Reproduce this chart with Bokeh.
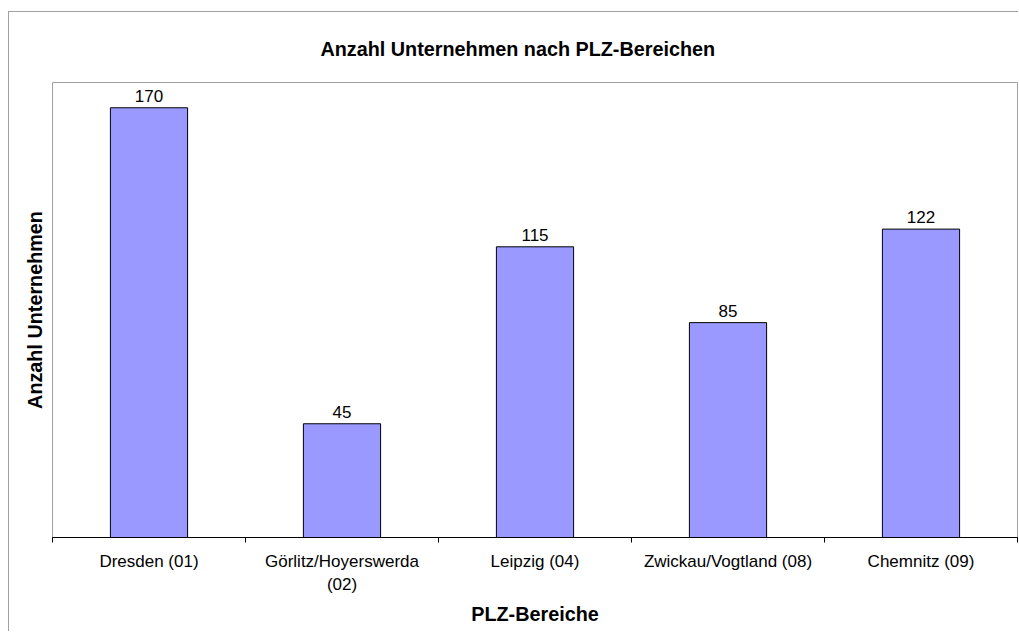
import numpy as np
from bokeh.plotting import figure
from bokeh.models import Range1d, FixedTicker, LabelSet, ColumnDataSource, LinearAxis
from bokeh.core.properties import value
from bokeh.embed import file_html
from bokeh.resources import INLINE

# ---- data ----
categories = ["Dresden (01)", "Görlitz/Hoyerswerda (02)", "Leipzig (04)",
              "Zwickau/Vogtland (08)", "Chemnitz (09)"]
tick_labels = ["Dresden (01)", "Görlitz/Hoyerswerda\n(02)", "Leipzig (04)",
               "Zwickau/Vogtland (08)", "Chemnitz (09)"]
values = [170, 45, 115, 85, 122]
title_text = "Anzahl Unternehmen nach PLZ-Bereichen"
x_title = "PLZ-Bereiche"
y_title = "Anzahl Unternehmen"

FONT = "Liberation Sans"
n = len(categories)
xpos = [i + 0.5 for i in range(n)]
src = ColumnDataSource(dict(x=xpos, top=values, label=[str(v) for v in values],
                            cat=categories))

p = figure(width=1010, height=620, output_backend="svg", toolbar_location=None,
           x_range=Range1d(0, n), y_range=Range1d(0, 180),
           x_axis_type=None, y_axis_type=None,
           min_border_left=43, min_border_right=2, min_border_top=69,
           min_border_bottom=95)
p.styles = {"border-left": "1px solid #a0a0a0", "border-top": "1px solid #a0a0a0",
            "margin-top": "11px", "margin-left": "8px"}
p.outline_line_color = "#a0a0a0"
p.background_fill_color = "white"
p.border_fill_color = "white"

p.title.text = title_text
p.title.align = "left"
p.title.text_font = FONT
p.title.text_font_size = "19.8px"
p.title.text_font_style = "bold"
p.title.text_color = "black"
p.title.offset = 268
p.title.standoff = 46

p.vbar(x="x", top="top", width=0.4, source=src,
       fill_color="#9999FF", line_color="black", line_width=1)

labels = LabelSet(x="x", y="top", text="label", source=src, text_align="center",
                  text_baseline="alphabetic", y_offset=6,
                  text_font=value(FONT), text_font_size=value("17px"),
                  text_color="black")
p.add_layout(labels)

xaxis = LinearAxis(ticker=FixedTicker(ticks=xpos, minor_ticks=list(range(n + 1))),
                   major_label_overrides={float(xp): lbl for xp, lbl in zip(xpos, tick_labels)},
                   axis_label=x_title)
xaxis.axis_line_color = "black"
xaxis.major_tick_line_color = None
xaxis.major_tick_in = 0
xaxis.major_tick_out = 0
xaxis.minor_tick_line_color = "black"
xaxis.minor_tick_in = 0
xaxis.minor_tick_out = 5
xaxis.major_label_standoff = 9
xaxis.major_label_text_font = FONT
xaxis.major_label_text_font_size = "17px"
xaxis.major_label_text_color = "black"
xaxis.major_label_text_line_height = 1.25
xaxis.axis_label_text_font = FONT
xaxis.axis_label_text_font_size = "19.8px"
xaxis.axis_label_text_font_style = "bold"
xaxis.axis_label_text_color = "black"
xaxis.axis_label_standoff = 6
p.add_layout(xaxis, "below")

yaxis = LinearAxis(ticker=FixedTicker(ticks=[]), axis_label=y_title)
yaxis.axis_line_color = None
yaxis.major_tick_line_color = None
yaxis.minor_tick_line_color = None
yaxis.major_tick_out = 0
yaxis.major_tick_in = 0
yaxis.minor_tick_out = 0
yaxis.major_label_standoff = 0
yaxis.axis_label_text_font = FONT
yaxis.axis_label_text_font_size = "19.8px"
yaxis.axis_label_text_font_style = "bold"
yaxis.axis_label_text_color = "black"
yaxis.axis_label_standoff = 7
p.add_layout(yaxis, "left")

p.xgrid.visible = False
p.ygrid.visible = False

open("out.html", "w").write(file_html(p, INLINE))
